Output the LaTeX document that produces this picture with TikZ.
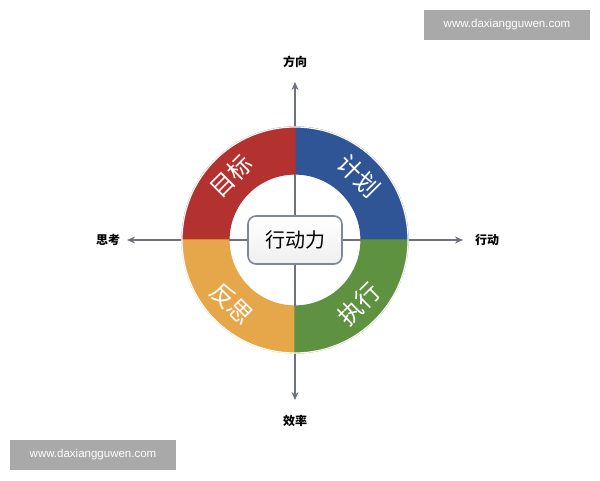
\documentclass[tikz,border=0pt]{standalone}
\usepackage{fontspec}
\setsansfont{Liberation Sans}
\newfontfamily\cjk{Noto Sans CJK SC}
\usetikzlibrary{arrows.meta}
\definecolor{mbred}{HTML}{B3312F}
\definecolor{mbblue}{HTML}{2F5597}
\definecolor{mbgreen}{HTML}{5E9140}
\definecolor{mborange}{HTML}{E6A64A}
\definecolor{axisgray}{HTML}{6E7180}
\definecolor{boxline}{HTML}{7D8797}
\definecolor{wmgray}{HTML}{A9A9A9}
\begin{document}
\begin{tikzpicture}[x=1pt,y=1pt,
	axis/.style={draw=axisgray, line width=1.3pt, -{Stealth[length=8pt,width=7pt]}},
	seg/.style={draw=white, line width=1.2pt},
	ringtext/.style={text=white, inner sep=0pt, font=\cjk\fontsize{24}{24}\selectfont},
	axislabel/.style={font=\cjk\bfseries\fontsize{12}{12}\selectfont},
	wmark/.style={fill=wmgray, text=white, minimum width=166pt, minimum height=30pt, inner sep=0pt, font=\sffamily\fontsize{11.5}{11.5}\selectfont}]
	\useasboundingbox (0,0) rectangle (600,480);
	\coordinate (O) at (295,240);
	\coordinate (N) at (295,398);
	\coordinate (S) at (295,80);
	\coordinate (W) at (127,240);
	\coordinate (E) at (463,240);
	% axes
	\draw[axis] (O) -- (N);
	\draw[axis] (O) -- (S);
	\draw[axis] (O) -- (W);
	\draw[axis] (O) -- (E);
	\node (FX) at (295,418)	[axislabel]	{方向};
	\node (XL) at (295,59)	[axislabel]	{效率};
	\node (SK) at (108,240)	[axislabel]	{思考};
	\node (XD) at (487,240)	[axislabel]	{行动};
	% ring
	\fill[seg, mbblue]   ([shift={(0:113)}]O) arc (0:90:113) -- ([shift={(90:66)}]O) arc (90:0:66) -- cycle;
	\fill[seg, mbred]    ([shift={(90:113)}]O) arc (90:180:113) -- ([shift={(180:66)}]O) arc (180:90:66) -- cycle;
	\fill[seg, mborange] ([shift={(180:113)}]O) arc (180:270:113) -- ([shift={(270:66)}]O) arc (270:180:66) -- cycle;
	\fill[seg, mbgreen]  ([shift={(270:113)}]O) arc (270:360:113) -- ([shift={(0:66)}]O) arc (360:270:66) -- cycle;
	\draw[seg] (O) ++(0:113) arc (0:360:113);
	\draw[axisgray, line width=1.3pt] (O) ++(90:66) -- (O) -- ++(180:66);
	\draw[axisgray, line width=1.3pt] (O) ++(270:66) -- (O) -- ++(0:66);
	\node (MB) at ([shift={(135:90)}]O) [ringtext, rotate=45]	{目标};
	\node (JH) at ([shift={(45:90)}]O)  [ringtext, rotate=-45]	{计划};
	\node (ZX) at ([shift={(-45:90)}]O) [ringtext, rotate=45]	{执行};
	\node (FS) at ([shift={(-135:90)}]O) [ringtext, rotate=-45]	{反思};
	% centre
	\node (XDL) at (O) [draw=boxline, line width=1.6pt, rounded corners=8pt, top color=white, bottom color=blue!4!gray!12,
		minimum width=94pt, minimum height=48pt, font=\cjk\fontsize{20}{20}\selectfont] {行动力};
	% watermarks
	\node (WM1) at (507,455) [wmark] {www.daxiangguwen.com};
	\node (WM2) at (93,25)   [wmark] {www.daxiangguwen.com};
\end{tikzpicture}
\end{document}
